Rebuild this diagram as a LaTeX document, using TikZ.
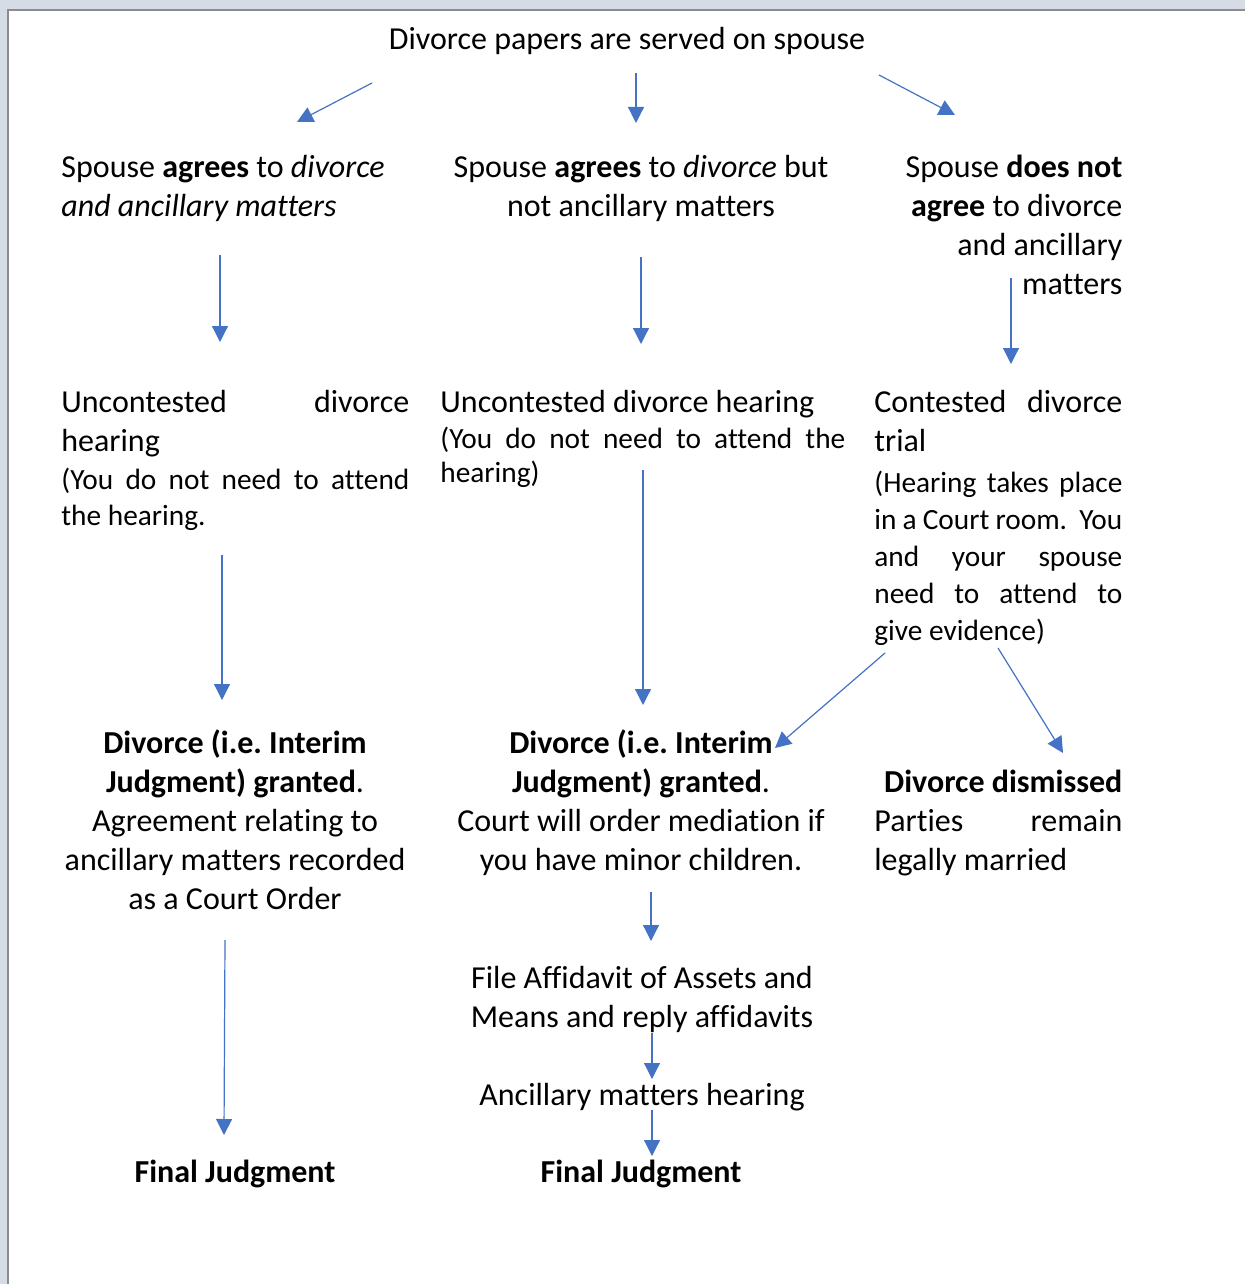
\documentclass[tikz,border=0pt]{standalone}
\usepackage{fontspec}
\setmainfont{Carlito}[Ligatures=NoCommon]
\usetikzlibrary{arrows.meta}
\definecolor{flowblue}{HTML}{4472C4}
\definecolor{deskgray}{HTML}{D6DCE5}
\definecolor{edgegray}{HTML}{8C8C8C}
% stretch one line to a given column width
\newcommand{\spread}[2]{\makebox[#1][s]{#2}}
\tikzset{
  txt/.style={inner sep=0pt, font=\fontsize{16pt}{19.5pt}\selectfont\frenchspacing},
  note/.style={inner sep=0pt, font=\fontsize{14.67pt}{#1}\selectfont\frenchspacing},
  note/.default=18pt,
  flow/.style={draw=flowblue, line width=0.6pt, -{Triangle[width=8pt,length=8pt]}}
}
\begin{document}
\begin{tikzpicture}[x=0.5pt,y=-0.5pt]
	\def\colA{61}
	\def\colB{440}
	\def\colC{874}
	\def\wA{174pt}
	\def\wB{202.5pt}
	\def\wC{124pt}
	\useasboundingbox (0,0) rectangle (1245,1284);
	% page on the desk
	\fill[deskgray] (0,0) rectangle (1245,1284);
	\fill[white] (8,10) rectangle (1245,1284);
	\draw[edgegray, line width=1pt] (8,1284) -- (8,10) -- (1245,10);

	% start
	\node[txt, anchor=base] (served) at (627,50) {Divorce papers are served on spouse};

	% first row
	\node[txt, anchor=base west, text width=\wA, align=flush left] (agreeall) at (\colA,177)
		{Spouse \textbf{agrees} to \textit{divorce}\\ \textit{and ancillary matters}};
	\node[txt, anchor=base, text width=200pt, align=flush center] (agreediv) at (641,177)
		{Spouse \textbf{agrees} to \textit{divorce} but\\ not ancillary matters};
	\node[txt, anchor=base west, text width=\wC, align=flush right] (disagree) at (\colC,177)
		{Spouse \textbf{does not}\\ \textbf{agree} to divorce\\ and ancillary\\ matters};

	% second row
	\node[txt, anchor=base west, text width=\wA, align=flush left] (uncontA) at (\colA,412)
		{\spread{\wA}{Uncontested divorce}\\ hearing};
	\node[note, anchor=base west, text width=\wA, align=flush left] (uncontAnote) at (\colA,489)
		{\spread{\wA}{(You do not need to attend}\\ the hearing.};
	\node[txt, anchor=base west, text width=\wB, align=flush left] (uncontB) at (\colB,412)
		{Uncontested divorce hearing};
	\node[note=17pt, anchor=base west, text width=\wB, align=flush left] (uncontBnote) at (\colB,448)
		{\spread{\wB}{(You do not need to attend the}\\ hearing)};
	\node[txt, anchor=base west, text width=\wC, align=flush left] (contested) at (\colC,412)
		{\spread{\wC}{Contested divorce}\\ trial};
	\node[note=18.5pt, anchor=base west, text width=\wC, align=flush left] (contestednote) at (\colC,492)
		{\spread{\wC}{(Hearing takes place}\\ \spread{\wC}{in a Court room.\ \ You}\\ \spread{\wC}{and your spouse}\\
		 \spread{\wC}{need to attend to}\\ give evidence)};

	% third row
	\node[txt, anchor=base, text width=190pt, align=flush center] (grantedA) at (235,753)
		{\textbf{Divorce (i.e. Interim}\\ \textbf{Judgment) granted}.\\ Agreement relating to\\
		 ancillary matters recorded\\ as a Court Order};
	\node[txt, anchor=base, text width=200pt, align=flush center] (grantedB) at (641,753)
		{\textbf{Divorce (i.e. Interim}\\ \textbf{Judgment) granted}.\\ Court will order mediation if\\
		 you have minor children.};
	\node[txt, anchor=base west, text width=\wC, align=flush left] (dismissed) at (\colC,792)
		{\makebox[\wC][r]{\textbf{Divorce dismissed}}\\ \spread{\wC}{Parties remain}\\ legally married};

	% ancillary track
	\node[txt, anchor=base, text width=200pt, align=flush center] (affidavit) at (642,988)
		{File Affidavit of Assets and\\ Means and reply affidavits};
	\node[txt, anchor=base] (amhearing) at (642,1105) {Ancillary matters hearing};
	\node[txt, anchor=base] (finalA) at (235,1182) {\textbf{Final Judgment}};
	\node[txt, anchor=base] (finalB) at (641,1182) {\textbf{Final Judgment}};

	% arrow ends
	\coordinate (s1) at (372,83);   \coordinate (e1) at (297,122);
	\coordinate (s2) at (636,73);   \coordinate (e2) at (636,123);
	\coordinate (s3) at (879,75);   \coordinate (e3) at (955,115);
	\coordinate (s4) at (220,255);  \coordinate (e4) at (220,342);
	\coordinate (s5) at (641,257);  \coordinate (e5) at (641,344);
	\coordinate (s6) at (1011,278); \coordinate (e6) at (1011,364);
	\coordinate (s7) at (222,555);  \coordinate (e7) at (222,700);
	\coordinate (s8) at (643,470);  \coordinate (e8) at (643,705);
	\coordinate (s9) at (885,653);  \coordinate (e9) at (775,748);
	\coordinate (s10) at (998,648); \coordinate (e10) at (1063,753);
	\coordinate (s11) at (225,940); \coordinate (e11) at (224,1135);
	\coordinate (s12) at (651,892); \coordinate (e12) at (651,941);
	\coordinate (s13) at (652,1033); \coordinate (e13) at (652,1079);
	\coordinate (s14) at (652,1110); \coordinate (e14) at (652,1156);
	\foreach \i in {1,...,14} {
		\draw[flow] (s\i) -- (e\i);
	}
\end{tikzpicture}
\end{document}
